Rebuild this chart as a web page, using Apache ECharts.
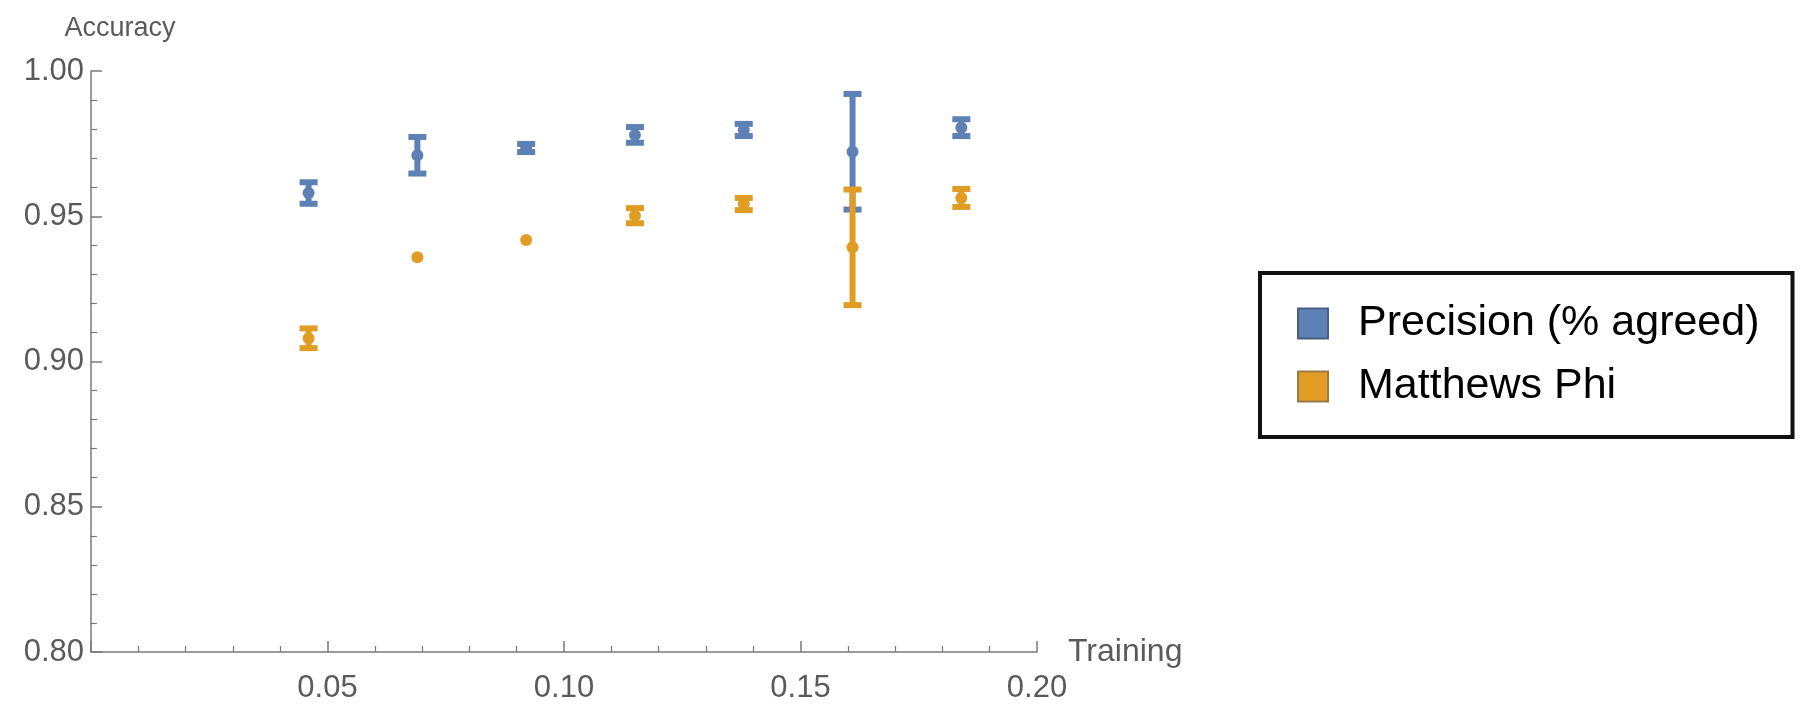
<!DOCTYPE html>
<html>
<head>
<meta charset="utf-8">
<title>Accuracy vs Training</title>
<script src="https://cdn.jsdelivr.net/npm/echarts@6/dist/echarts.min.js"></script>
<style>
  html, body { margin: 0; padding: 0; background: #fff; }
  #chart { width: 1804px; height: 720px; }
</style>
</head>
<body>
<div id="chart"></div>
<script>
// training fraction (x) and the two accuracy measures with their error half-widths
const trainingFrac = [0.046, 0.069, 0.092, 0.115, 0.138, 0.161, 0.184];
const precisionMean = [0.958, 0.971, 0.9735, 0.978, 0.9797, 0.9722, 0.9805];
const precisionErr = [0.0037, 0.0063, 0.0014, 0.0027, 0.0021, 0.0199, 0.0029];
const phiMean = [0.908, 0.9359, 0.9418, 0.9502, 0.9542, 0.9393, 0.9563];
const phiErr = [0.0034, 0, 0, 0.0026, 0.0021, 0.0199, 0.0031];
const seriesNames = ["Precision (% agreed)", "Matthews Phi"];

const BLUE = "#5e81b5";
const ORANGE = "#e19c24";
const FONT = "'Liberation Sans', Arial, sans-serif";

const myChart = echarts.init(document.getElementById("chart"));

// error bar + dot, positioned through the axes
function renderErrorBar(params, api) {
  const x = api.value(0);
  const y = api.value(1);
  const e = api.value(2);
  const c = api.coord([x, y]);
  const color = api.visual("color");
  const children = [];
  if (e > 0) {
    const top = api.coord([x, y + e]);
    const bot = api.coord([x, y - e]);
    children.push({
      type: "line",
      shape: { x1: c[0], y1: top[1], x2: c[0], y2: bot[1] },
      style: { stroke: color, lineWidth: 6 }
    });
    children.push({
      type: "rect",
      shape: { x: c[0] - 9, y: top[1] - 3, width: 18, height: 6 },
      style: { fill: color }
    });
    children.push({
      type: "rect",
      shape: { x: c[0] - 9, y: bot[1] - 3, width: 18, height: 6 },
      style: { fill: color }
    });
  }
  children.push({
    type: "circle",
    shape: { cx: c[0], cy: c[1], r: 6 },
    style: { fill: color }
  });
  return { type: "group", children: children };
}

function toData(means, errs) {
  return trainingFrac.map((x, i) => [x, means[i], errs[i]]);
}

const axisColor = "#7a7a7a";
const labelColor = "#5a5a5a";

var option = {
  animation: false,
  grid: { left: 91, top: 71, width: 946, height: 581 },
  legend: {
    orient: "vertical",
    left: 1260,
    top: 273,
    padding: [29, 33, 29, 37],
    borderColor: "#111",
    borderWidth: 4,
    itemWidth: 30,
    itemHeight: 30,
    itemGap: 20,
    textStyle: { fontSize: 43, lineHeight: 42, color: "#000", fontFamily: FONT, padding: [0, 0, 0, 25] },
    data: [
      { name: seriesNames[0], icon: "rect", itemStyle: { color: BLUE, borderColor: "#4a5f80", borderWidth: 2 } },
      { name: seriesNames[1], icon: "rect", itemStyle: { color: ORANGE, borderColor: "#9a7a45", borderWidth: 2 } }
    ]
  },
  xAxis: {
    type: "value",
    min: 0,
    max: 0.2,
    interval: 0.05,
    name: "Training",
    nameLocation: "end",
    nameGap: 31,
    nameTextStyle: { fontSize: 32, color: labelColor, fontFamily: FONT, verticalAlign: "middle", padding: [8, 0, 0, 0] },
    axisLine: { lineStyle: { color: axisColor, width: 1.5 } },
    axisTick: { inside: true, length: 11, lineStyle: { color: axisColor, width: 1.5 } },
    minorTick: { show: true, splitNumber: 5, length: 6, lineStyle: { color: axisColor, width: 1.2 } },
    splitLine: { show: false },
    axisLabel: {
      margin: 21,
      fontSize: 31,
      color: labelColor,
      fontFamily: FONT,
      formatter: function (v) { return v === 0 ? "" : v.toFixed(2); }
    }
  },
  yAxis: {
    type: "value",
    min: 0.8,
    max: 1.0,
    interval: 0.05,
    name: "Accuracy",
    nameLocation: "end",
    nameGap: 29,
    nameTextStyle: { fontSize: 27, color: labelColor, fontFamily: FONT, align: "center", padding: [0, 0, 0, 58] },
    axisLine: { lineStyle: { color: axisColor, width: 1.5 } },
    axisTick: { inside: true, length: 11, lineStyle: { color: axisColor, width: 1.5 } },
    minorTick: { show: true, splitNumber: 5, length: 6, lineStyle: { color: axisColor, width: 1.2 } },
    splitLine: { show: false },
    axisLabel: {
      margin: 7,
      fontSize: 31,
      color: labelColor,
      fontFamily: FONT,
      formatter: function (v) { return v.toFixed(2); }
    }
  },
  series: [
    {
      name: seriesNames[0],
      type: "custom",
      renderItem: renderErrorBar,
      itemStyle: { color: BLUE },
      encode: { x: 0, y: 1 },
      data: toData(precisionMean, precisionErr)
    },
    {
      name: seriesNames[1],
      type: "custom",
      renderItem: renderErrorBar,
      itemStyle: { color: ORANGE },
      encode: { x: 0, y: 1 },
      data: toData(phiMean, phiErr)
    }
  ]
};

myChart.setOption(option);
</script>
</body>
</html>
